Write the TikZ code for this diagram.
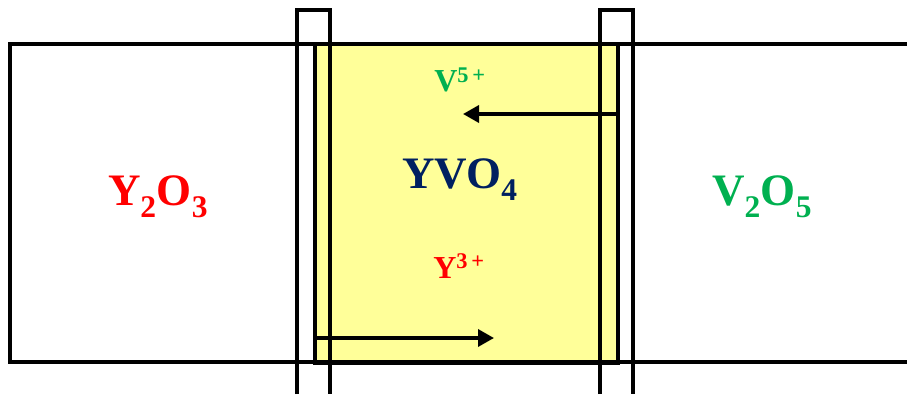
\documentclass[tikz,border=0pt]{standalone}
\usepackage{fontspec}
\setmainfont{Liberation Serif}
\usetikzlibrary{arrows.meta}
\definecolor{yred}{RGB}{255,0,0}
\definecolor{vgreen}{RGB}{0,176,80}
\definecolor{navy}{RGB}{0,32,96}
\definecolor{lyellow}{RGB}{255,255,153}
\begin{document}
\begin{tikzpicture}[x=1pt,y=-1pt,
  wall/.style={line width=3.5pt, black},
  flow/.style={line width=3.5pt, black, -{Triangle[length=16pt,width=17pt]}},
  big/.style={font=\fontsize{45}{45}\selectfont\bfseries, anchor=base, inner sep=0pt},
  ion/.style={font=\fontsize{32}{32}\selectfont\bfseries, anchor=base, inner sep=0pt}]
\useasboundingbox (0,0) rectangle (907,396);
% product layer
\node[draw, line width=3.5pt, fill=lyellow, minimum width=303pt, minimum height=318pt, inner sep=0pt, anchor=north west] (yvo) at (313,43) {};
% outer reaction couple
\coordinate (ol) at (10,44);
\coordinate (otr) at (907,44);
\coordinate (obl) at (10,362);
\coordinate (obr) at (907,362);
\draw[wall] (otr) -- (ol) -- (obl) -- (obr);
% left marker
\coordinate (l1t) at (297,10); \coordinate (l1b) at (297,394);
\coordinate (l2t) at (330,10); \coordinate (l2b) at (330,394);
\draw[wall] (l1b) -- (l1t) -- (l2t) -- (l2b);
% right marker
\coordinate (r1t) at (600,10); \coordinate (r1b) at (600,394);
\coordinate (r2t) at (633,10); \coordinate (r2b) at (633,394);
\draw[wall] (r1b) -- (r1t) -- (r2t) -- (r2b);
% labels
\node[big, text=yred] (y2o3) at (158,205) {Y\textsubscript{2}O\textsubscript{3}};
\node[big, text=navy] (yvo4) at (460,188) {YVO\textsubscript{4}};
\node[big, text=vgreen] (v2o5) at (762,205) {V\textsubscript{2}O\textsubscript{5}};
\node[ion, text=vgreen] (v5) at (460,92) {V\textsuperscript{5\,+}};
\node[ion, text=yred] (y3) at (459,278) {Y\textsuperscript{3\,+}};
% diffusion arrows
\coordinate (vs) at (yvo.east |- 0,114);
\coordinate (ve) at (463,114);
\draw[flow] (vs) -- (ve);
\coordinate (ys) at (yvo.west |- 0,338);
\coordinate (ye) at (494,338);
\draw[flow] (ys) -- (ye);
\end{tikzpicture}
\end{document}
